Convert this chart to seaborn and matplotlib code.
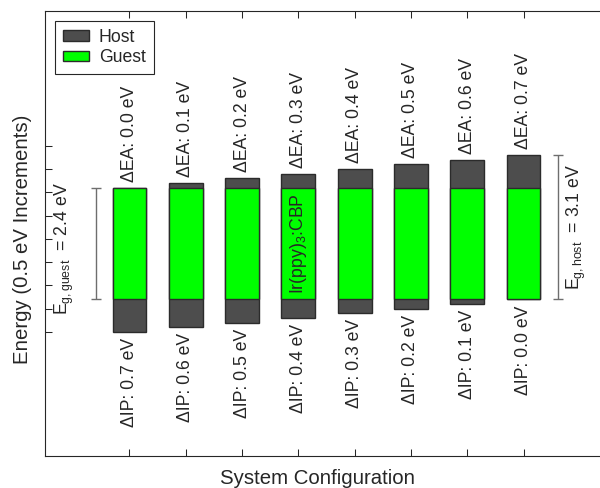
import matplotlib
matplotlib.use("Agg")
import matplotlib.pyplot as plt
import seaborn as sns
from matplotlib.patches import Patch

# Energy level data (eV), guest HOMO placed at 0.7 so host of config 1 starts at 0
configs = [1, 2, 3, 4, 5, 6, 7, 8]
delta_ea = [0.0, 0.1, 0.2, 0.3, 0.4, 0.5, 0.6, 0.7]
delta_ip = [0.7, 0.6, 0.5, 0.4, 0.3, 0.2, 0.1, 0.0]
guest_homo = 0.7
guest_gap = 2.4
host_gap = 3.1
energy_ticks = [0.0, 0.5, 1.0, 1.5, 2.0, 2.5, 3.0, 3.5, 4.0]

host_bottom = [guest_homo - d for d in delta_ip]
host_top = [b + host_gap for b in host_bottom]

sns.set_style("ticks")
plt.rcParams["font.family"] = ["Liberation Sans", "DejaVu Sans"]
plt.rcParams["mathtext.fontset"] = "custom"
plt.rcParams["mathtext.rm"] = "Liberation Sans"
plt.rcParams["mathtext.it"] = "Liberation Sans"

host_color = "#4d4d4d"
guest_color = "#00ff00"
edge = "#2b2b2b"
fs = 12.7
label_fs = 14.7

fig = plt.figure(figsize=(6, 4.88), dpi=100)
ax = fig.add_axes([45 / 600, 32 / 488, 563 / 600, 445 / 488])

# Host and guest bars
ax.bar(configs, host_gap, bottom=host_bottom, width=0.6, color=host_color,
       edgecolor=edge, linewidth=1)
ax.bar(configs, guest_gap, bottom=guest_homo, width=0.6, color=guest_color,
       edgecolor=edge, linewidth=1)

# Offset labels
for x, ea, ip, top, bot in zip(configs, delta_ea, delta_ip, host_top, host_bottom):
    ax.annotate(f"\u0394EA: {ea:.1f} eV", (x, top), xytext=(0, 4.3),
                textcoords="offset points", rotation=90, ha="center",
                va="bottom", fontsize=fs)
    ax.annotate(f"\u0394IP: {ip:.1f} eV", (x, bot), xytext=(0, -4.3),
                textcoords="offset points", rotation=90, ha="center",
                va="top", fontsize=fs)

ax.text(4, guest_homo + guest_gap / 2, r"Ir(ppy)$_\mathregular{3}$:CBP",
        rotation=90, ha="center", va="center", fontsize=fs)

# Gap brackets
gray = "#6e6e6e"
ax.errorbar(0.414, guest_homo + guest_gap / 2, yerr=guest_gap / 2,
            color=gray, capsize=3.3, lw=1, capthick=1)
ax.errorbar(8.62, host_bottom[-1] + host_gap / 2, yerr=host_gap / 2,
            color=gray, capsize=3.3, lw=1, capthick=1)
ax.text(-0.155, 1.8, r"E$_\mathregular{g,guest}$  = 2.4 eV", rotation=90,
        ha="center", va="center", fontsize=fs)
ax.text(8.94, 2.26, r"E$_\mathregular{g,host}$  = 3.1 eV", rotation=90,
        ha="center", va="center", fontsize=fs)

ax.set_xlim(-0.5, 9.5)
ax.set_ylim(-2.67, 6.9)
ax.set_xticks(configs)
ax.set_xticklabels([])
ax.set_yticks(energy_ticks)
ax.set_yticklabels([])
ax.tick_params(direction="in", length=4.8, width=0.75, color="#262626",
               top=True, bottom=True, left=True, right=False)
for s in ax.spines.values():
    s.set_color("#262626")
    s.set_linewidth(0.8)

ax.set_xlabel("System Configuration", fontsize=label_fs, color="#262626")
ax.set_ylabel("Energy (0.5 eV Increments)", fontsize=label_fs, color="#262626")
ax.xaxis.set_label_coords((317 - 45) / 563, -0.03)
ax.yaxis.set_label_coords(-0.023, 0.487)

handles = [Patch(facecolor=host_color, edgecolor=edge, label="Host"),
           Patch(facecolor=guest_color, edgecolor=edge, label="Guest")]
leg = ax.legend(handles=handles, loc="upper left", fontsize=fs,
                frameon=True, fancybox=False, edgecolor="#262626",
                borderaxespad=0.55, handlelength=1.5, handleheight=0.55,
                handletextpad=0.55, labelspacing=0.2, borderpad=0.45)
leg.get_frame().set_linewidth(0.8)
leg.get_frame().set_alpha(1)

fig.savefig("out.png", dpi=100)
